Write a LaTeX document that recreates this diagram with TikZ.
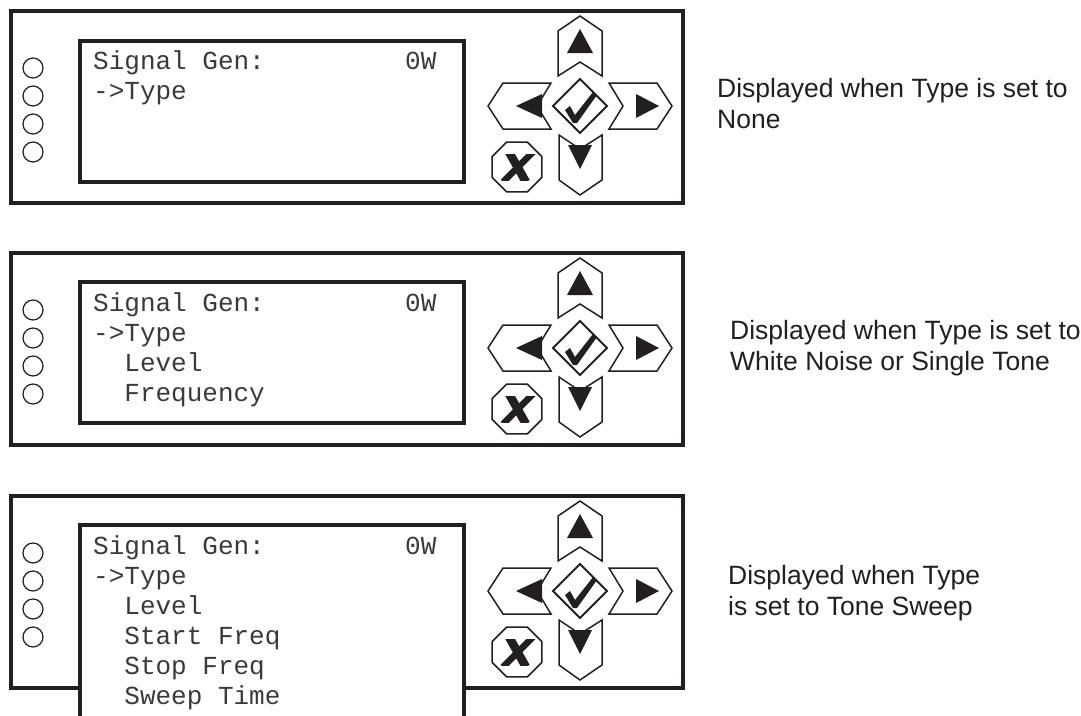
\documentclass[tikz,border=0pt]{standalone}
\usepackage{fontspec}
\setmainfont{Liberation Sans}
\newfontfamily\lcdfont{Liberation Mono}
\definecolor{ink}{HTML}{231F20}
\definecolor{lcdink}{HTML}{3A3A3A}
\tikzset{
  outerbox/.style={draw=ink, line width=3.6pt},
  screenbox/.style={draw=ink, line width=3.6pt, fill=white},
  btn/.style={draw=ink, line width=1.5pt, line join=miter, fill=white},
  tri/.style={fill=ink},
  led/.style={draw=ink, line width=1.2pt},
  xstroke/.style={draw=ink, line cap=butt},
  lcd/.style={font=\lcdfont\fontsize{26}{30}\selectfont, text=lcdink, anchor=base west, inner sep=0pt},
  desc/.style={font=\fontsize{26.5}{31}\selectfont, text=ink, anchor=base west, inner sep=0pt},
}
\newcommand{\keypad}[1]{%
  % up
  \draw[btn] (580,5) -- (602,20) -- (602,65) -- (580,51) -- (558,65) -- (558,20) -- cycle;
  \fill[tri] (580,18) -- (593,42) -- (567,42) -- cycle;
  % down
  \draw[btn] (559,124) -- (580,138) -- (602,124) -- (602,169) -- (580,184) -- (559,169) -- cycle;
  \fill[tri] (568,134) -- (592,134) -- (580,158) -- cycle;
  % left
  \draw[btn] (488,95) -- (503,72) -- (551,72) -- (537,95) -- (551,118) -- (503,118) -- cycle;
  \fill[tri] (516,95) -- (542,83) -- (542,107) -- cycle;
  % right
  \draw[btn] (672,95) -- (657,72) -- (609,72) -- (623,95) -- (609,118) -- (657,118) -- cycle;
  \fill[tri] (659,95) -- (636,83) -- (636,107) -- cycle;
  % diamond with check
  \draw[btn, line width=1.8pt] (553,95) -- (580,68) -- (607,95) -- (580,122) -- cycle;
  \begin{scope}[shift={(580,95)}]
    \fill[ink] (-15,4) -- (-10,0) -- (-5,9) -- (13,-14) -- (17,-11) -- (-3,17) -- (-7,17) -- cycle;
  \end{scope}
  % cancel octagon
  \coordinate (#1-x) at (517,156);
  \draw[btn] (#1-x) +(22.5:27pt) -- +(67.5:27pt) -- +(112.5:27pt) -- +(157.5:27pt)
     -- +(202.5:27pt) -- +(247.5:27pt) -- +(292.5:27pt) -- +(337.5:27pt) -- cycle;
  \begin{scope}[shift={(517,156)}]
    \clip (-20,-13) rectangle (22,13);
    \draw[xstroke, line width=8.5pt] (-8,-15) -- (9,15);
    \draw[xstroke, line width=6.5pt] (16,-15) -- (-14,15);
  \end{scope}
  % indicator LEDs
  \foreach \yy in {57,85,113,141} \draw[led] (33,\yy) circle[radius=10pt];
}
\begin{document}
\begin{tikzpicture}[x=1pt,y=-1pt]
\useasboundingbox (0,0) rectangle (1081,715);
\clip (0,0) rectangle (1081,715);
\fill[white] (0,0) rectangle (1081,715);

% ---------- panel 1 ----------
\begin{scope}[shift={(0,11)}]
  \draw[outerbox] (11,0) rectangle (683,192);
  \draw[screenbox] (80,30) rectangle (464,171);
  \keypad{pa}
  \node[lcd] (pa-l1) at (93,58) {Signal Gen:};
  \node[lcd] (pa-w) at (405,58) {0W};
  \node[lcd] (pa-l2) at (93,88) {->Type};
\end{scope}
\node[desc] (pa-d1) at (717,97) {Displayed when Type is set to};
\node[desc] (pa-d2) at (717,128) {None};

% ---------- panel 2 ----------
\begin{scope}[shift={(0,253)}]
  \draw[outerbox] (11,0) rectangle (683,192);
  \draw[screenbox] (80,29) rectangle (464,170);
  \keypad{pb}
  \node[lcd] (pb-l1) at (93,58) {Signal Gen:};
  \node[lcd] (pb-w) at (405,58) {0W};
  \node[lcd] (pb-l2) at (93,88) {->Type};
  \node[lcd] (pb-l3) at (124.2,118) {Level};
  \node[lcd] (pb-l4) at (124.2,148) {Frequency};
\end{scope}
\node[desc] (pb-d1) at (730,339) {Displayed when Type is set to};
\node[desc] (pb-d2) at (730,370) {White Noise or Single Tone};

% ---------- panel 3 ----------
\begin{scope}[shift={(0,496)}]
  \draw[outerbox] (11,0) rectangle (683,192);
  \draw[screenbox] (80,29) rectangle (464,260);
  \keypad{pc}
  \node[lcd] (pc-l1) at (93,58) {Signal Gen:};
  \node[lcd] (pc-w) at (405,58) {0W};
  \node[lcd] (pc-l2) at (93,88) {->Type};
  \node[lcd] (pc-l3) at (124.2,118) {Level};
  \node[lcd] (pc-l4) at (124.2,148) {Start Freq};
  \node[lcd] (pc-l5) at (124.2,178) {Stop Freq};
  \node[lcd] (pc-l6) at (124.2,208) {Sweep Time};
\end{scope}
\node[desc] (pc-d1) at (728,584) {Displayed when Type};
\node[desc] (pc-d2) at (728,615) {is set to Tone Sweep};
\end{tikzpicture}
\end{document}
